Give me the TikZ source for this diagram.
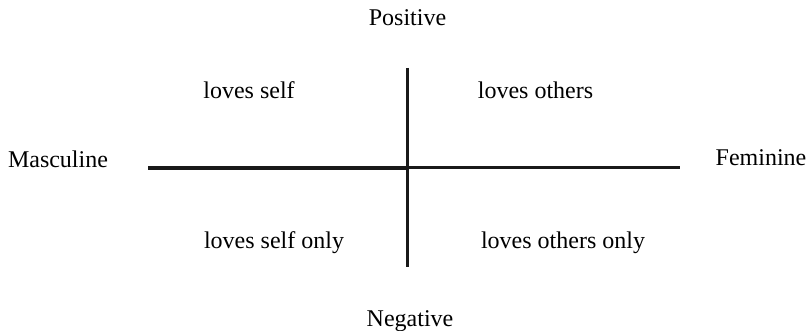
\documentclass[tikz,border=0pt]{standalone}
\usepackage{fontspec}
\setmainfont{Liberation Serif}
\begin{document}
\begin{tikzpicture}[x=1pt,y=1pt,
  lbl/.style={inner sep=0pt, anchor=base, font=\fontsize{24}{28}\selectfont, text=black},
  axisline/.style={line width=3pt, draw=black!90}]
\useasboundingbox (0,0) rectangle (810,331);
\node[lbl] (pos) at (407.5,305) {Positive};
\node[lbl] (neg) at (410,4) {Negative};
\node[lbl] (masc) at (58,163) {Masculine};
\node[lbl] (fem) at (761,165) {Feminine};
\node[lbl] (ls) at (249,232) {loves self};
\node[lbl] (lo) at (535.5,232) {loves others};
\node[lbl] (lso) at (274,82) {loves self only};
\node[lbl] (loo) at (563,82) {loves others only};
\coordinate (c) at (407.5,163);
\coordinate (top) at (407.5,263);
\coordinate (bot) at (407.5,64);
\coordinate (lft) at (148,163);
\coordinate (rgt) at (680,163);
\draw[axisline] (top) -- (bot);
\draw[axisline, line width=3.3pt] (lft) -- (c);
\draw[axisline, line width=3pt] (c) -- (rgt);
\end{tikzpicture}
\end{document}
